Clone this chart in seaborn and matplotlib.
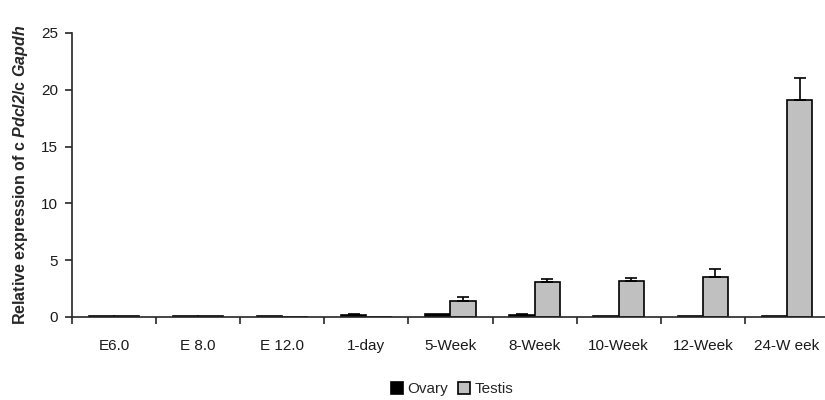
import numpy as np
import pandas as pd
import seaborn as sns
import matplotlib.pyplot as plt
from matplotlib.patches import Patch

stages = ["E6.0", "E 8.0", "E 12.0", "1-day", "5-Week", "8-Week", "10-Week", "12-Week", "24-W eek"]
ovary = [0.1, 0.1, 0.1, 0.15, 0.25, 0.15, 0.1, 0.1, 0.1]
ovary_err = [0.0, 0.0, 0.0, 0.1, 0.0, 0.1, 0.0, 0.0, 0.0]
testis = [0.08, 0.08, 0.0, 0.0, 1.45, 3.05, 3.2, 3.5, 19.1]
testis_err = [0.0, 0.0, 0.0, 0.0, 0.3, 0.3, 0.25, 0.7, 1.9]

sns.set_style("ticks")
plt.rcParams["font.family"] = ["Liberation Sans", "DejaVu Sans"]
plt.rcParams["mathtext.fontset"] = "custom"
plt.rcParams["mathtext.bfit"] = "Liberation Sans:italic:bold"

df = pd.DataFrame({
    "Stage": stages * 2,
    "Value": ovary + testis,
    "Tissue": ["Ovary"] * len(stages) + ["Testis"] * len(stages),
})
colors = {"Ovary": "#000000", "Testis": "#c0c0c0"}

fig = plt.figure(figsize=(8.25, 4), dpi=100)
ax = fig.add_axes([72 / 825, 1 - 317 / 400, (829 - 72) / 825, (317 - 33) / 400])
sns.barplot(data=df, x="Stage", y="Value", hue="Tissue", palette=colors,
            width=0.6, errorbar=None, edgecolor="black", linewidth=1.2,
            legend=False, ax=ax)

# one-sided error bars on top of each bar
n = len(stages)
for k, (vals, errs) in enumerate([(ovary, ovary_err), (testis, testis_err)]):
    patches = ax.patches[k * n:(k + 1) * n]
    xs = [p.get_x() + p.get_width() / 2 for p in patches]
    lower = np.zeros(n)
    mask = np.array(errs) > 0
    ax.errorbar(np.array(xs)[mask], np.array(vals)[mask],
                yerr=[lower[mask], np.array(errs)[mask]],
                fmt="none", ecolor="black", elinewidth=1.2, capsize=4, capthick=1.2)

ax.set_ylim(0, 25)
ax.set_yticks([0, 5, 10, 15, 20, 25])
ax.set_xlim(-0.5, n - 0.5)
ax.set_xticks(np.arange(-0.5, n, 1))
ax.set_xticklabels([])
ax.set_xticks(np.arange(n), minor=True)
ax.set_xticklabels(stages, minor=True, fontsize=11, color="#1a1a1a")
ax.tick_params(axis="x", which="minor", length=0, pad=16)
ax.tick_params(axis="x", which="major", length=5, width=1.2, direction="out")
ax.tick_params(axis="y", length=5, width=1.2, labelsize=11, labelcolor="#1a1a1a", pad=5)
for s in ["left", "bottom"]:
    ax.spines[s].set_linewidth(1.2)
sns.despine(ax=ax)
ax.set_xlabel("")
ax.set_ylabel(r"Relative expression of c $\mathbfit{Pdcl2}$/c $\mathbfit{Gapdh}$",
              fontsize=11.5, fontweight="bold", labelpad=8)

handles = [Patch(facecolor=colors[t], edgecolor="black", linewidth=1.2, label=t)
           for t in ["Ovary", "Testis"]]
fig.legend(handles=handles, loc="center", bbox_to_anchor=(452 / 825, 1 - 389 / 400),
           ncol=2, frameon=False, fontsize=11, handlelength=0.8, handleheight=0.8,
           handletextpad=0.3, columnspacing=0.6)

fig.savefig("out.png", dpi=100)
